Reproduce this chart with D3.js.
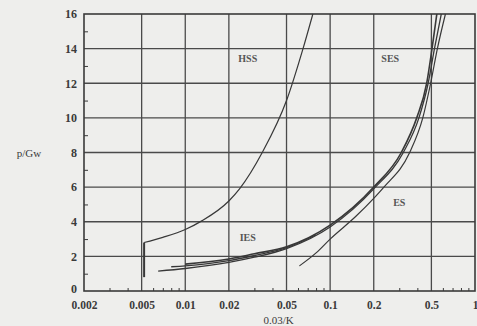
<!DOCTYPE html>
<html>
<head>
<meta charset="utf-8">
<script src="https://cdn.jsdelivr.net/npm/d3@7"></script>
<style>
  body { margin: 0; background: #eeeeec; }
  svg { display: block; }
</style>
</head>
<body>
<svg width="477" height="326"></svg>
<script>
// data: [0.03/K, p/Gw]
const hssDrop = [[0.0052, 0.8], [0.0052, 2.8]];
const hss = [[0.0052, 2.8], [0.007, 3.1], [0.01, 3.55], [0.013, 4.05], [0.02, 5.2], [0.0237, 5.9], [0.034, 8], [0.05, 11], [0.065, 14], [0.076, 16]];
const ses = [[0.01, 1.55], [0.02, 1.85], [0.03, 2.15], [0.05, 2.55], [0.1, 3.8], [0.2, 6.0], [0.31, 8], [0.396, 10], [0.464, 12], [0.505, 14], [0.545, 16]];
const ies1 = [[0.0065, 1.15], [0.01, 1.3], [0.02, 1.65], [0.03, 1.95], [0.05, 2.45], [0.1, 3.7], [0.2, 5.9], [0.32, 8], [0.41, 10], [0.475, 12], [0.525, 14], [0.585, 16]];
const ies2 = [[0.008, 1.4], [0.01, 1.45], [0.02, 1.75], [0.03, 2.05], [0.05, 2.5], [0.08, 3.25]];
const es = [[0.0614, 1.45], [0.08, 2.2], [0.1, 3.0], [0.15, 4.3], [0.2, 5.35], [0.235, 6], [0.354, 8], [0.436, 10], [0.494, 12], [0.55, 14], [0.625, 16]];

const xTicks = [0.002, 0.005, 0.01, 0.02, 0.05, 0.1, 0.2, 0.5, 1];
const xMinor = [0.003, 0.004, 0.006, 0.007, 0.008, 0.009, 0.03, 0.04, 0.06, 0.07, 0.08, 0.09, 0.3, 0.4, 0.6, 0.7, 0.8, 0.9];
const yTicks = [0, 2, 4, 6, 8, 10, 12, 14, 16];
const yMinor = [1, 3, 5, 7, 9, 11, 13, 15];

const labels = [
  { text: "HSS", x: 0.027, y: 13.2 },
  { text: "SES", x: 0.26, y: 13.2 },
  { text: "ES", x: 0.3, y: 4.9 },
  { text: "IES", x: 0.027, y: 2.9 }
];

const svg = d3.select("svg");
const ink = "#3a3a3a";

const x = d3.scaleLog().domain([0.002, 1]).range([84, 475]);
const y = d3.scaleLinear().domain([0, 16]).range([291, 14]);

// grid
const grid = svg.append("g")
	.attr("stroke", "#4a4a4a")
	.attr("stroke-width", 1.3);

grid.selectAll(".vg")
	.data(xTicks.slice(1, -1))
	.join("line")
		.attr("x1", d => x(d)).attr("x2", d => x(d))
		.attr("y1", y(0)).attr("y2", y(16));

grid.selectAll(".hg")
	.data(yTicks.slice(1, -1))
	.join("line")
		.attr("x1", x(0.002)).attr("x2", x(1))
		.attr("y1", d => y(d)).attr("y2", d => y(d));

// minor ticks, inward
svg.append("g")
	.attr("transform", `translate(0, ${y(0)})`)
	.call(d3.axisBottom(x).tickValues(xMinor).tickSize(-3).tickFormat(""))
	.call(g => g.select(".domain").remove())
	.selectAll("line").attr("stroke", ink);

svg.append("g")
	.attr("transform", `translate(${x(0.002)}, 0)`)
	.call(d3.axisLeft(y).tickValues(yMinor).tickSize(-4).tickFormat(""))
	.call(g => g.select(".domain").remove())
	.selectAll("line").attr("stroke", ink);

// frame
svg.append("rect")
	.attr("x", x(0.002)).attr("y", y(16))
	.attr("width", x(1) - x(0.002)).attr("height", y(0) - y(16))
	.attr("fill", "none")
	.attr("stroke", ink)
	.attr("stroke-width", 1.6);

// tick labels
const xAxis = svg.append("g")
	.attr("transform", `translate(0, ${y(0)})`)
	.call(d3.axisBottom(x).tickValues(xTicks).tickSize(0).tickPadding(10).tickFormat(d => String(d)));
xAxis.select(".domain").remove();
xAxis.selectAll("text")
	.attr("font-family", "Liberation Serif")
	.attr("font-size", 11.5)
	.attr("font-weight", "bold")
	.attr("fill", ink);

const yAxis = svg.append("g")
	.attr("transform", `translate(${x(0.002)}, 0)`)
	.call(d3.axisLeft(y).tickValues(yTicks).tickSize(0).tickPadding(7));
yAxis.select(".domain").remove();
yAxis.selectAll("text")
	.attr("font-family", "Liberation Serif")
	.attr("font-size", 12)
	.attr("font-weight", "bold")
	.attr("fill", ink);
yAxis.selectAll("text").filter(d => d === 0).attr("dy", "0.1em");

// axis titles
svg.append("text")
	.attr("x", 29).attr("y", y(8) + 4)
	.attr("text-anchor", "middle")
	.attr("font-family", "Liberation Serif")
	.attr("font-size", 11)
	.attr("fill", ink)
	.text("p/Gw");

svg.append("text")
	.attr("x", x(0.05) - 8).attr("y", 324)
	.attr("text-anchor", "middle")
	.attr("font-family", "Liberation Serif")
	.attr("font-size", 11)
	.attr("fill", ink)
	.text("0.03/K");

// curves
const line = d3.line()
	.x(d => x(d[0]))
	.y(d => y(d[1]))
	.curve(d3.curveMonotoneX);

const curves = [
	{ data: hssDrop, w: 2 },
	{ data: hss, w: 1.2 },
	{ data: ses, w: 1.6 },
	{ data: ies1, w: 1.3 },
	{ data: ies2, w: 1.3 },
	{ data: es, w: 1.2 }
];

svg.append("g")
	.attr("fill", "none")
	.attr("stroke", "#383838")
	.selectAll("path")
	.data(curves)
	.join("path")
		.attr("stroke-width", d => d.w)
		.attr("d", d => line(d.data));

// curve labels
svg.append("g")
	.selectAll("text")
	.data(labels)
	.join("text")
		.attr("x", d => x(d.x))
		.attr("y", d => y(d.y))
		.attr("text-anchor", "middle")
		.attr("font-family", "Liberation Serif")
		.attr("font-size", 10)
		.attr("font-weight", "bold")
		.attr("fill", "#555")
		.text(d => d.text);
</script>
</body>
</html>
